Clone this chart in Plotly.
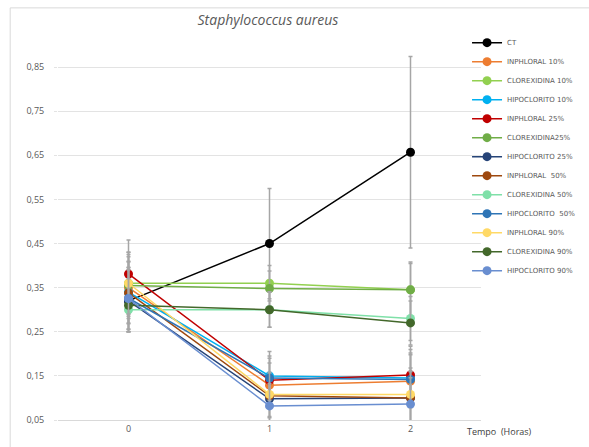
import plotly.graph_objects as go

tempo = [0, 1, 2]
x_labels = ["0", "1", "2"]

series_names = ["CT", "INPHLORAL 10%", "CLOREXIDINA 10%", "HIPOCLORITO 10%", "INPHLORAL 25%",
                "CLOREXIDINA25%", "HIPOCLORITO 25%", "INPHLORAL  50%", "CLOREXIDINA 50%",
                "HIPOCLORITO  50%", "INPHLORAL 90%", "CLOREXIDINA 90%", "HIPOCLORITO 90%"]

ct = [0.320, 0.450, 0.657]
inphloral_10 = [0.350, 0.129, 0.138]
clorexidina_10 = [0.360, 0.360, 0.345]
hipoclorito_10 = [0.340, 0.150, 0.145]
inphloral_25 = [0.381, 0.140, 0.152]
clorexidina_25 = [0.355, 0.348, 0.345]
hipoclorito_25 = [0.320, 0.098, 0.100]
inphloral_50 = [0.338, 0.105, 0.100]
clorexidina_50 = [0.300, 0.300, 0.280]
hipoclorito_50 = [0.326, 0.145, 0.142]
inphloral_90 = [0.360, 0.108, 0.108]
clorexidina_90 = [0.310, 0.300, 0.270]
hipoclorito_90 = [0.325, 0.082, 0.086]

err_ct = [0.07, 0.125, 0.217]
err_inphloral_10 = [0.07, 0.05, 0.06]
err_clorexidina_10 = [0.07, 0.04, 0.06]
err_hipoclorito_10 = [0.07, 0.055, 0.065]
err_inphloral_25 = [0.077, 0.05, 0.065]
err_clorexidina_25 = [0.07, 0.04, 0.063]
err_hipoclorito_25 = [0.07, 0.05, 0.06]
err_inphloral_50 = [0.07, 0.05, 0.06]
err_clorexidina_50 = [0.05, 0.04, 0.05]
err_hipoclorito_50 = [0.07, 0.05, 0.06]
err_inphloral_90 = [0.07, 0.05, 0.06]
err_clorexidina_90 = [0.06, 0.04, 0.05]
err_hipoclorito_90 = [0.07, 0.05, 0.06]

values = [ct, inphloral_10, clorexidina_10, hipoclorito_10, inphloral_25, clorexidina_25,
          hipoclorito_25, inphloral_50, clorexidina_50, hipoclorito_50, inphloral_90,
          clorexidina_90, hipoclorito_90]
errors = [err_ct, err_inphloral_10, err_clorexidina_10, err_hipoclorito_10, err_inphloral_25,
          err_clorexidina_25, err_hipoclorito_25, err_inphloral_50, err_clorexidina_50,
          err_hipoclorito_50, err_inphloral_90, err_clorexidina_90, err_hipoclorito_90]
colors = ["#000000", "#ED7D31", "#92D050", "#00B0F0", "#C00000", "#70AD47", "#264478",
          "#9E480E", "#7FE0A8", "#2E75B6", "#FFD966", "#43682B", "#698ED0"]

y_ticks = [0.05, 0.15, 0.25, 0.35, 0.45, 0.55, 0.65, 0.75, 0.85]

fig = go.Figure()
for i in range(len(series_names)):
    fig.add_trace(go.Scatter(
        x=tempo, y=values[i], name=series_names[i], mode="lines+markers",
        line=dict(color=colors[i], width=1.5),
        marker=dict(color=colors[i], size=9, symbol="circle"),
        error_y=dict(type="data", array=errors[i], visible=True, color="#A6A6A6",
                     thickness=1.5, width=2),
    ))

fig.update_layout(
    width=589, height=447,
    margin=dict(l=58, r=108, t=45, b=27, autoexpand=False),
    paper_bgcolor="white", plot_bgcolor="white",
    font=dict(family="Open Sans, DejaVu Sans, sans-serif", color="#595959"),
    title=dict(text="<i>Staphylococcus aureus</i>", x=0.455, xanchor="center", y=0.955,
               yanchor="middle", font=dict(size=14, color="#595959")),
    showlegend=True,
    legend=dict(x=0.967, y=1.045, xanchor="left", yanchor="top", maxheight=420,
                font=dict(size=7, family="DejaVu Sans", color="#595959"),
                itemwidth=30, bgcolor="rgba(0,0,0,0)"),
    xaxis=dict(range=[-0.5, 2.5], tickvals=tempo, ticktext=x_labels, showgrid=False,
               showline=True, linecolor="#D9D9D9", linewidth=1, zeroline=False,
               tickfont=dict(size=9, color="#595959"), ticks=""),
    yaxis=dict(range=[0.05, 0.90], tickvals=y_ticks, tickformat=".2f", showgrid=True,
               gridcolor="#E3E3E3", gridwidth=1, zeroline=False, showline=False,
               ticks="outside", ticklen=3, tickcolor="#E3E3E3", ticklabelstandoff=8,
               tickfont=dict(size=9, color="#595959")),
    separators=",.",
)

fig.add_annotation(text="Tempo  (Horas)", xref="paper", yref="paper", x=0.962, y=-0.03,
                   xanchor="left", yanchor="middle", showarrow=False,
                   font=dict(size=9, color="#404040"))

fig.add_shape(type="rect", xref="paper", yref="paper", x0=-0.113, y0=-0.2, x1=1.4, y1=1.099,
              line=dict(color="#D9D9D9", width=1), layer="below")

fig.write_html("out.html")
